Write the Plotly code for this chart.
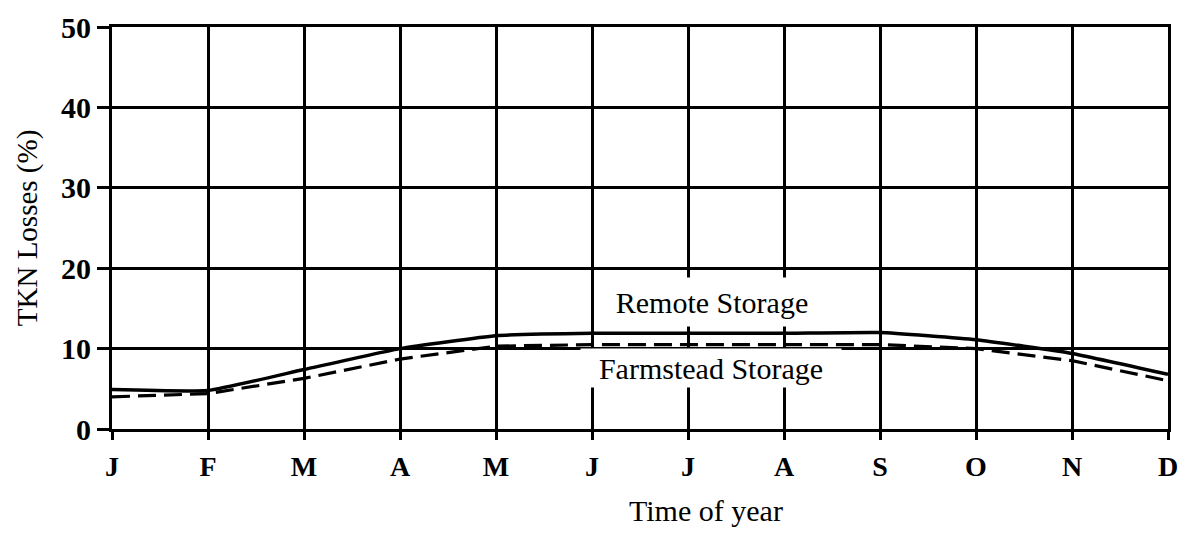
import plotly.graph_objects as go

# month positions and labels
months = ["J", "F", "M", "A", "M", "J", "J", "A", "S", "O", "N", "D"]
month_pos = list(range(12))

# TKN losses (%)
remote_storage = [4.9, 4.8, 7.4, 10.0, 11.6, 11.9, 11.9, 11.9, 12.0, 11.1, 9.4, 6.8]
farmstead_storage = [4.0, 4.4, 6.3, 8.7, 10.3, 10.5, 10.5, 10.5, 10.5, 10.0, 8.5, 6.0]

y_ticks = [0, 10, 20, 30, 40, 50]

SERIF = "Liberation Serif, Times New Roman, serif"

fig = go.Figure()

fig.add_trace(go.Scatter(
    x=month_pos, y=farmstead_storage,
    mode="lines",
    name="Farmstead Storage",
    line=dict(color="black", width=3.2, dash="18px,8px"),
))

fig.add_trace(go.Scatter(
    x=month_pos, y=remote_storage,
    mode="lines",
    name="Remote Storage",
    line=dict(color="black", width=3.5, shape="spline", smoothing=0.4),
))

# curve labels, white boxes cut the grid like in the original
fig.add_annotation(
    x=6.25, y=15.8, xref="x", yref="y",
    text="Remote Storage", showarrow=False,
    font=dict(family=SERIF, size=30, color="black"),
    bgcolor="white", width=232, height=46,
)
fig.add_annotation(
    x=6.24, y=7.6, xref="x", yref="y",
    text="Farmstead Storage", showarrow=False,
    font=dict(family=SERIF, size=30, color="black"),
    bgcolor="white", width=258, height=36,
)

# axis titles placed by hand (x title sits right of centre in the original)
fig.add_annotation(
    x=0.5624, y=-0.2015, xref="paper", yref="paper",
    xanchor="center", yanchor="middle",
    text="Time of year", showarrow=False,
    font=dict(family=SERIF, size=30, color="black"),
)
fig.add_annotation(
    x=-0.0803, y=0.5, xref="paper", yref="paper",
    xanchor="center", yanchor="middle",
    text="TKN Losses (%)", showarrow=False, textangle=-90,
    font=dict(family=SERIF, size=29, color="black"),
)

fig.update_xaxes(
    range=[0, 11],
    tickmode="array", tickvals=month_pos, ticktext=months,
    tickfont=dict(family=SERIF, size=28, color="black", weight="bold"),
    ticks="outside", ticklen=8, tickwidth=3, tickcolor="black",
    ticklabelstandoff=2,
    showline=True, linecolor="black", linewidth=3, mirror=True,
    showgrid=True, gridcolor="black", gridwidth=2.5,
    zeroline=False, automargin=False,
)

fig.update_yaxes(
    range=[0, 50],
    tickmode="array", tickvals=y_ticks,
    tickfont=dict(family=SERIF, size=30, color="black", weight="bold"),
    ticks="outside", ticklen=12, tickwidth=3, tickcolor="black",
    ticklabelstandoff=0,
    showline=True, linecolor="black", linewidth=3, mirror=True,
    showgrid=True, gridcolor="black", gridwidth=2.5,
    zeroline=False, automargin=False,
)

# the page adds an 8 px offset, so margins are trimmed to keep the plot box in place
fig.update_layout(
    width=1200, height=535,
    margin=dict(l=104, r=40, t=19, b=114),
    plot_bgcolor="white", paper_bgcolor="white",
    showlegend=False,
)

fig.write_html("out.html")
